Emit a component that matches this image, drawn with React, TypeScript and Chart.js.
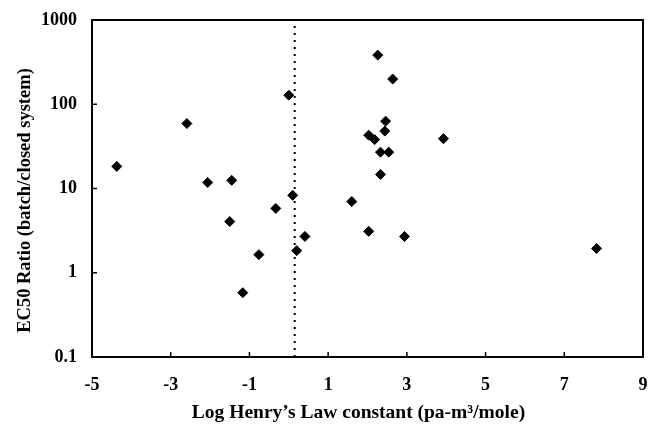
import { useEffect, useRef } from 'react';
import { Chart, registerables } from 'chart.js';

Chart.register(...registerables);

// Log Henry's Law constant (x) and EC50 ratio (y)
const henryLog = [-4.37, -2.59, -2.06, -1.45, -1.5, -1.17, -0.76, -0.33, 0.0, 0.1, 0.2, 0.41, 1.6, 2.03, 2.03, 2.18, 2.26, 2.33, 2.33, 2.44, 2.46, 2.54, 2.64, 2.94, 3.93, 7.82];
const ec50Ratio = [18.3, 59, 11.8, 12.5, 4.05, 0.58, 1.64, 5.8, 128, 8.3, 1.83, 2.7, 7.0, 43, 3.1, 38, 383, 27, 14.7, 48, 63, 27, 199, 2.7, 39, 1.94];

const xTickValues = [-5, -3, -1, 1, 3, 5, 7, 9];
const yTickValues = [0.1, 1, 10, 100, 1000];

const thresholdX = [0.15, 0.15];
const thresholdY = [0.1, 1000];

const xTitle = "Log Henry\u2019s Law constant (pa-m\u00B3/mole)";
const yTitle = 'EC50 Ratio (batch/closed system)';

const FONT = "'Liberation Serif', 'DejaVu Serif', serif";

const framePlugin = {
  id: 'frameTicks',
  afterDatasetsDraw(chart: any) {
    const { ctx, chartArea: a, scales } = chart;
    ctx.save();
    ctx.strokeStyle = '#000';
    ctx.lineWidth = 2;
    ctx.strokeRect(a.left, a.top, a.right - a.left, a.bottom - a.top);
    ctx.lineWidth = 1.5;
    ctx.beginPath();
    scales.x.ticks.forEach((t: any) => {
      const px = scales.x.getPixelForValue(t.value);
      ctx.moveTo(px, a.bottom);
      ctx.lineTo(px, a.bottom - 5);
    });
    scales.y.ticks.forEach((t: any) => {
      const py = scales.y.getPixelForValue(t.value);
      ctx.moveTo(a.left, py);
      ctx.lineTo(a.left + 5, py);
    });
    ctx.stroke();
    ctx.restore();
  },
  afterDraw(chart: any) {
    const { ctx, chartArea: a } = chart;
    ctx.save();
    ctx.fillStyle = '#000';
    ctx.textAlign = 'center';
    ctx.textBaseline = 'alphabetic';
    ctx.font = `bold 19.5px ${FONT}`;
    ctx.fillText(xTitle, (a.left + a.right) / 2 - 9, 418);
    ctx.translate(30, (a.top + a.bottom) / 2 + 12);
    ctx.rotate(-Math.PI / 2);
    ctx.font = `bold 18.5px ${FONT}`;
    ctx.fillText(yTitle, 0, 0);
    ctx.restore();
  },
};

export default function App() {
  const ref = useRef<HTMLCanvasElement | null>(null);

  useEffect(() => {
    document.body.style.margin = '0';
    const canvas = ref.current;
    if (!canvas) return;
    const chart = new Chart(canvas, {
      type: 'scatter',
      data: {
        datasets: [
          {
            data: henryLog.map((x, i) => ({ x, y: ec50Ratio[i] })),
            pointStyle: 'rectRot',
            pointRadius: 5,
            pointBackgroundColor: '#000',
            pointBorderColor: '#000',
            pointBorderWidth: 1,
            showLine: false,
          },
          {
            data: thresholdX.map((x, i) => ({ x, y: thresholdY[i] })),
            showLine: true,
            borderColor: '#000',
            borderWidth: 2,
            borderDash: [2, 5],
            pointRadius: 0,
            fill: false,
          },
        ],
      },
      options: {
        animation: false,
        responsive: false,
        layout: { padding: { top: 20, right: 3, left: 0, bottom: 0 } },
        plugins: {
          legend: { display: false },
          tooltip: { enabled: false },
        },
        scales: {
          x: {
            type: 'linear',
            min: -5,
            max: 9,
            afterBuildTicks: (s: any) => {
              s.ticks = xTickValues.map((value) => ({ value }));
            },
            afterFit: (s: any) => {
              s.height = 70;
              s.paddingRight = 0;
              s.paddingLeft = 0;
            },
            grid: { display: false, drawTicks: false },
            border: { display: false },
            ticks: {
              color: '#000',
              font: { family: FONT, size: 18, weight: 'bold' },
              padding: 18,
              maxRotation: 0,
              autoSkip: false,
            },
          },
          y: {
            type: 'logarithmic',
            min: 0.1,
            max: 1000,
            afterBuildTicks: (s: any) => {
              s.ticks = yTickValues.map((value) => ({ value }));
            },
            afterFit: (s: any) => {
              s.width = 92;
              s.paddingTop = 0;
              s.paddingBottom = 0;
            },
            grid: { display: false, drawTicks: false },
            border: { display: false },
            ticks: {
              color: '#000',
              font: { family: FONT, size: 18, weight: 'bold' },
              padding: 15,
              autoSkip: false,
              callback: (v: any) => String(v),
            },
          },
        },
      },
      plugins: [framePlugin],
    } as any);
    return () => chart.destroy();
  }, []);

  return <canvas ref={ref} width={649} height={427} style={{ display: 'block' }} />;
}
